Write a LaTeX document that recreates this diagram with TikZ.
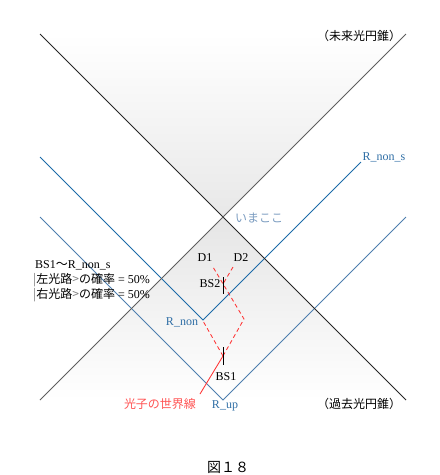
\documentclass[tikz,border=0pt]{standalone}
\usepackage{fontspec}
\setmainfont{Liberation Serif}
\newfontfamily\jp{Noto Sans CJK JP}
\definecolor{pathblue}{HTML}{1B6AA8}
\definecolor{pathsteel}{HTML}{4D7EAE}
\definecolor{labelblue}{HTML}{2F6EA5}
\definecolor{nowblue}{HTML}{7B9CC0}
\definecolor{photonred}{HTML}{FF3333}
\definecolor{conegray}{HTML}{5E5E5E}

\begin{document}
\begin{tikzpicture}[x=1pt, y=-1pt, font=\fontsize{12}{15}\selectfont,
        thin line/.style={line width=0.85pt},
        photon/.style={thin line, color=photonred},
        wave/.style={photon, dash pattern=on 4pt off 3pt}]
        \useasboundingbox (0,0) rectangle (440,475);

        % light cone corners
        \coordinate (futL) at (40,34);
        \coordinate (futR) at (406,34);
        \coordinate (now) at (223,217);
        \coordinate (pastL) at (40,400);
        \coordinate (pastR) at (406,400);

        \shade[top color=white, bottom color=black!9] (futL) -- (futR) -- (now) -- cycle;
        \shade[top color=black!10, bottom color=white] (now) -- (pastL) -- (pastR) -- cycle;

        % mirror paths
        \coordinate (nonA) at (40,157);
        \coordinate (Rnon) at (203,320);
        \coordinate (nonB) at (361,162);
        \coordinate (upA) at (40,217);
        \coordinate (Rup) at (223,400);
        \coordinate (upB) at (406,217);
        \draw[thin line, color=pathblue] (nonA) -- (Rnon) -- (nonB);
        \draw[thin line, color=pathsteel] (upA) -- (Rup) -- (upB);

        \draw[thin line, color=black!85] (futL) -- (pastR);
        \draw[thin line, color=conegray] (futR) -- (pastL);

        % photon
        \coordinate (src) at (200,394);
        \coordinate (bs1) at (223,356);
        \coordinate (turn) at (244,319);
        \coordinate (bs2) at (223,284);
        \coordinate (d1) at (213,267);
        \coordinate (d2) at (233,267);
        \coordinate (left) at (203,321);
        \draw[photon] (src) -- (bs1);
        \draw[wave] (bs1) -- (left);
        \draw[wave] (bs1) -- (turn) -- (d1);
        \draw[wave] (d2) -- (bs2);

        \draw[thin line] (223,347) -- (223,365);
        \draw[thin line] (223,277) -- (223,294);

        \node (future) at (359,36) {\jp （未来光円錐）};
        \node (past) at (359,404) {\jp （過去光円錐）};
        \node[color=labelblue] (nonslabel) at (384,157) {R\_non\_s};
        \node[color=nowblue] (nowlabel) at (259,218) {\jp いまここ};
        \node (D1) at (205,258) {D1};
        \node (D2) at (241,258) {D2};
        \node (BS2) at (210,284) {BS2};
        \node (BS1) at (226,377) {BS1};
        \node[color=labelblue] (nonlabel) at (182,322) {R\_non};
        \node[color=labelblue] (uplabel) at (225,406) {R\_up};
        \node[color=photonred!85] (worldline) at (160,404) {\jp 光子の世界線};
        \node[anchor=west, align=left, inner sep=0pt] (prob) at (33,281)
            {\,BS1{\jp ～}R\_non\_s\\
             {\jp\color{gray}|}{\jp 左光路}{\jp\color{gray}>}{\jp の確率} = 50\%\\
             {\jp\color{gray}|}{\jp 右光路}{\jp\color{gray}>}{\jp の確率} = 50\%};
        \node[font=\fontsize{14}{16}\selectfont] (caption) at (228,467) {\jp 図１８};
\end{tikzpicture}
\end{document}
